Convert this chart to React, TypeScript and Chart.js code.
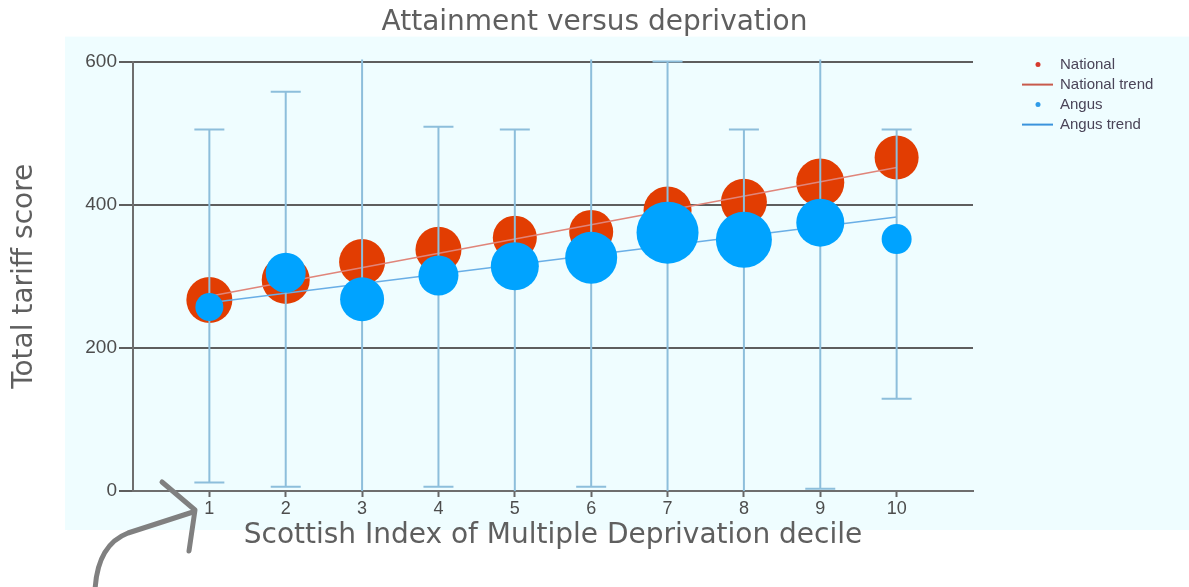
import { useEffect, useRef } from "react";
import { Chart, registerables } from "chart.js";

Chart.register(...registerables);

// ---- data ----
const deciles = [1, 2, 3, 4, 5, 6, 7, 8, 9, 10];
const xTickValues = [1, 2, 3, 4, 5, 6, 7, 8, 9, 10];
const yTickValues = [0, 200, 400, 600];

const nationalScore = [267, 295, 320, 337, 354, 362, 392, 404, 431, 466];
const nationalBubble = [23, 24, 23, 23, 22, 22, 24, 23, 24, 22];
const angusScore = [257, 305, 268, 301, 314, 326, 361, 351, 375, 352];
const angusBubble = [14, 20, 22, 20, 24, 26, 31, 28, 24, 15];

const trendDeciles = [1, 10];
const nationalTrend = [272, 452];
const angusTrend = [263, 383];

const angusLow = [12, 6, -50, 6, -30, 6, -30, -30, 3, 129];
const angusHigh = [505, 558, 650, 509, 505, 650, 600, 505, 650, 505];

const legendLabels = ["National", "National trend", "Angus", "Angus trend"];
const legendKinds = ["dot", "line", "dot", "line"];
const legendColors = ["#d63a2e", "#c85a4c", "#2f9be8", "#3a93dc"];

const TITLE_FONT = "DejaVu Sans";
const TICK_FONT = "Liberation Sans";

const bgPlugin = {
  id: "cyanBg",
  beforeDraw(chart: any) {
    const { ctx, chartArea } = chart;
    ctx.save();
    ctx.fillStyle = "#effdff";
    const left = chartArea.left - 68;
    const top = chartArea.top - 25;
    ctx.fillRect(left, top, chart.width - left, chartArea.bottom + 39 - top);
    ctx.restore();
  },
};

const errorBarPlugin = {
  id: "errorBars",
  beforeDatasetDraw(chart: any, args: any) {
    if (chart.data.datasets[args.index].label !== "Angus") return;
    const { ctx, chartArea } = chart;
    const x = chart.scales.x;
    const y = chart.scales.y;
    ctx.save();
    ctx.beginPath();
    ctx.rect(chartArea.left, chartArea.top - 2, chartArea.right - chartArea.left, chartArea.bottom - chartArea.top + 2);
    ctx.clip();
    ctx.strokeStyle = "#8dbedb";
    ctx.lineWidth = 2;
    deciles.forEach((d, i) => {
      const px = x.getPixelForValue(d);
      const top = y.getPixelForValue(angusHigh[i]);
      const bot = y.getPixelForValue(angusLow[i]);
      ctx.beginPath();
      ctx.moveTo(px, top);
      ctx.lineTo(px, bot);
      ctx.moveTo(px - 15, top);
      ctx.lineTo(px + 15, top);
      ctx.moveTo(px - 15, bot);
      ctx.lineTo(px + 15, bot);
      ctx.stroke();
    });
    ctx.restore();
  },
};

const legendPlugin = {
  id: "sideLegend",
  afterDraw(chart: any) {
    const { ctx, chartArea } = chart;
    const x0 = chartArea.right + 49;
    ctx.save();
    ctx.font = `15px "${TICK_FONT}"`;
    ctx.textBaseline = "middle";
    ctx.textAlign = "left";
    legendLabels.forEach((label, i) => {
      const yy = chartArea.top + 3 + i * 20;
      ctx.fillStyle = legendColors[i];
      ctx.strokeStyle = legendColors[i];
      if (legendKinds[i] === "dot") {
        ctx.beginPath();
        ctx.arc(x0 + 16, yy, 2.5, 0, Math.PI * 2);
        ctx.fill();
      } else {
        ctx.lineWidth = 2;
        ctx.beginPath();
        ctx.moveTo(x0, yy);
        ctx.lineTo(x0 + 31, yy);
        ctx.stroke();
      }
      ctx.fillStyle = "#4a4458";
      ctx.fillText(label, x0 + 38, yy);
    });
    ctx.restore();
  },
};

const arrowPlugin = {
  id: "handArrow",
  afterDraw(chart: any) {
    const { ctx, chartArea } = chart;
    const ox = chartArea.left;
    const oy = chartArea.bottom;
    ctx.save();
    ctx.strokeStyle = "#808080";
    ctx.lineWidth = 5;
    ctx.lineCap = "round";
    ctx.lineJoin = "round";
    ctx.beginPath();
    ctx.moveTo(ox + 29, oy - 9);
    ctx.lineTo(ox + 62, oy + 19);
    ctx.lineTo(ox + 56, oy + 60);
    ctx.stroke();
    ctx.beginPath();
    ctx.moveTo(ox + 60, oy + 21);
    ctx.lineTo(ox - 5, oy + 42);
    ctx.quadraticCurveTo(ox - 36, oy + 54, ox - 38, oy + 100);
    ctx.stroke();
    ctx.restore();
  },
};

export default function App() {
  const ref = useRef<HTMLCanvasElement | null>(null);

  useEffect(() => {
    document.body.style.margin = "0";
    const canvas = ref.current;
    if (!canvas) return;

    const titleFont = { family: TITLE_FONT, size: 28, weight: "normal" };

    const chart = new Chart(canvas, {
      type: "bubble",
      data: {
        datasets: [
          {
            type: "bubble",
            label: "National",
            data: deciles.map((d, i) => ({ x: d, y: nationalScore[i], r: nationalBubble[i] })),
            backgroundColor: "#e23d02",
            borderWidth: 0,
            order: 5,
          } as any,
          {
            type: "line",
            label: "National trend",
            data: trendDeciles.map((d, i) => ({ x: d, y: nationalTrend[i] })),
            borderColor: "#e0857a",
            borderWidth: 1.5,
            pointRadius: 0,
            fill: false,
            order: 4,
          } as any,
          {
            type: "line",
            label: "Angus trend",
            data: trendDeciles.map((d, i) => ({ x: d, y: angusTrend[i] })),
            borderColor: "#69aee6",
            borderWidth: 1.5,
            pointRadius: 0,
            fill: false,
            order: 3,
          } as any,
          {
            type: "bubble",
            label: "Angus",
            data: deciles.map((d, i) => ({ x: d, y: angusScore[i], r: angusBubble[i] })),
            backgroundColor: "#00a3ff",
            borderWidth: 0,
            order: 2,
          } as any,
        ],
      },
      options: {
        responsive: false,
        animation: false,
        layout: { padding: 0 },
        plugins: {
          legend: { display: false },
          tooltip: { enabled: false },
          title: {
            display: true,
            text: "Attainment versus deprivation",
            color: "#5f5f5f",
            font: titleFont,
            padding: { top: 6, bottom: 22 },
          },
        },
        scales: {
          x: {
            type: "linear",
            min: 0,
            max: 11,
            afterBuildTicks: (s: any) => {
              s.ticks = xTickValues.map((v) => ({ value: v }));
            },
            afterFit: (s: any) => {
              s.height = 96;
            },
            grid: { drawOnChartArea: false, drawTicks: true, tickLength: 6, tickWidth: 2, color: "#666" },
            border: { display: true, color: "#6e6e6e", width: 2 },
            ticks: {
              color: "#4d4d4d",
              font: { family: TICK_FONT, size: 18 },
              padding: 1,
              maxRotation: 0,
              autoSkip: false,
            },
            title: {
              display: true,
              text: "Scottish Index of Multiple Deprivation decile",
              color: "#5f5f5f",
              font: titleFont,
              padding: { top: 0, bottom: 34 },
            },
          },
          y: {
            type: "linear",
            min: 0,
            max: 600,
            afterBuildTicks: (s: any) => {
              s.ticks = yTickValues.map((v) => ({ value: v }));
            },
            afterFit: (s: any) => {
              s.width = 133;
            },
            grid: { color: "#5e5e5e", lineWidth: 2, tickLength: 14, tickWidth: 2 },
            border: { display: true, color: "#6e6e6e", width: 2 },
            ticks: {
              color: "#4d4d4d",
              font: { family: TICK_FONT, size: 19 },
              padding: 2,
            },
            title: {
              display: true,
              text: "Total tariff score",
              color: "#5f5f5f",
              font: titleFont,
              padding: { top: 8, bottom: 0 },
            },
          },
          legendSpace: {
            type: "linear",
            position: "right",
            display: true,
            afterFit: (s: any) => {
              s.width = 216;
            },
            grid: { display: false, drawTicks: false },
            border: { display: false },
            ticks: { display: false },
          },
        },
      } as any,
      plugins: [bgPlugin, errorBarPlugin, legendPlugin, arrowPlugin],
    });

    return () => chart.destroy();
  }, []);

  return (
    <div style={{ width: 1189, height: 587 }}>
      <canvas ref={ref} width={1189} height={587} style={{ display: "block" }} />
    </div>
  );
}
